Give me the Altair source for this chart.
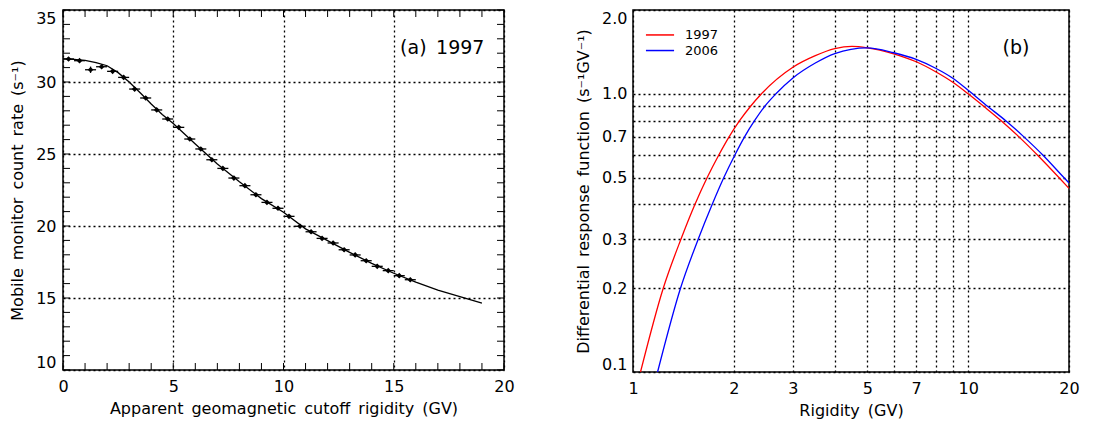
import altair as alt
import pandas as pd

# ---------------- Panel (a) data ----------------
pt_x = [0.25, 0.75, 1.25, 1.75, 2.25, 2.75, 3.25, 3.75, 4.25, 4.75, 5.25, 5.75,
        6.25, 6.75, 7.25, 7.75, 8.25, 8.75, 9.25, 9.75, 10.25, 10.75, 11.25, 11.75,
        12.25, 12.75, 13.25, 13.75, 14.25, 14.75, 15.25, 15.75]
pt_y = [31.6, 31.48, 30.85, 31.06, 30.74, 30.32, 29.51, 28.89, 28.06, 27.43, 26.85, 26.04,
        25.35, 24.6, 24.0, 23.33, 22.8, 22.17, 21.64, 21.23, 20.67, 19.98, 19.6, 19.14,
        18.82, 18.35, 17.99, 17.59, 17.2, 16.9, 16.55, 16.27]
pt_yerr = [0.12, 0.12, 0.22, 0.12, 0.12, 0.12, 0.12, 0.12, 0.12, 0.12, 0.12, 0.12,
           0.12, 0.12, 0.12, 0.12, 0.12, 0.12, 0.12, 0.12, 0.12, 0.12, 0.12, 0.12,
           0.12, 0.12, 0.12, 0.12, 0.12, 0.12, 0.12, 0.12]
bin_half = 0.25

fit_x = [0, 0.5, 1, 1.5, 2, 2.5, 3, 3.5, 4, 4.5, 5, 6, 7, 8, 9, 10, 11, 12, 13, 14,
         15, 16, 17, 18, 19]
fit_y = [31.6, 31.57, 31.5, 31.35, 31.13, 30.65, 30.0, 29.25, 28.47, 27.75, 27.12, 25.7,
         24.3, 23.07, 21.9, 20.95, 19.8, 18.98, 18.17, 17.4, 16.72, 16.1, 15.55, 15.1, 14.65]

a_xticks = list(range(0, 21))
a_yticks = list(range(10, 36))
a_xlabels = [0, 5, 10, 15, 20]
a_ylabels = [10, 15, 20, 25, 30, 35]

# ---------------- Panel (b) data ----------------
r1997 = [1.053, 1.231, 1.39, 1.53, 1.665, 1.80, 1.935, 2.08, 2.24, 2.418, 3.0, 3.5,
         4.0, 4.5, 5.0, 6.0, 7.0, 8.0, 9.0, 10.0, 11.15, 12.55, 14.18, 16.15, 18.66, 20.0]
w1997 = [0.10, 0.20, 0.30, 0.40, 0.50, 0.60, 0.70, 0.80, 0.90, 1.00, 1.245, 1.37,
         1.452, 1.48, 1.463, 1.392, 1.303, 1.20, 1.10, 1.00, 0.90, 0.80, 0.70, 0.60, 0.50, 0.457]
r2006 = [1.184, 1.386, 1.565, 1.7226, 1.867, 2.01, 2.152, 2.305, 2.47, 2.67, 3.0, 3.5,
         4.0, 5.0, 6.0, 7.0, 8.0, 9.0, 10.0, 11.45, 12.95, 14.67, 16.76, 19.3, 20.0]
w2006 = [0.10, 0.20, 0.30, 0.40, 0.50, 0.60, 0.70, 0.80, 0.90, 1.00, 1.14, 1.29,
         1.395, 1.463, 1.404, 1.329, 1.235, 1.137, 1.03, 0.90, 0.80, 0.70, 0.60, 0.50, 0.478]

years = ["1997", "2006"]
year_colors = ["#ff0000", "#0000ff"]
leg_r = [1.093, 1.326]
leg_w = [1.627, 1.43]
leg_text_r = 1.43

b_xvalues = [1, 2, 3, 4, 5, 6, 7, 8, 9, 10, 20]
b_xshown = [1, 2, 3, 5, 7, 10, 20]
b_yvalues = [0.1, 0.2, 0.3, 0.4, 0.5, 0.6, 0.7, 0.8, 0.9, 1.0, 2.0]
b_yshown = [0.1, 0.2, 0.3, 0.5, 0.7, 1.0, 2.0]

FONT = "DejaVu Sans"
SP = "\u2002"
W_A, H_A = 441, 360
W_B, H_B = 436, 362

# ---------------- Panel (a) ----------------
pts = pd.DataFrame({"x": pt_x, "y": pt_y, "e": pt_yerr})
fit = pd.DataFrame({"x": fit_x, "y": fit_y})
xt = pd.DataFrame({"x": a_xticks})
yt = pd.DataFrame({"y": a_yticks})

XT = SP.join(["Apparent", "geomagnetic", "cutoff", "rigidity", "(GV)"])
YT = SP.join(["Mobile", "monitor", "count", "rate", "(s\u207b\u00b9)"])

xs = alt.Scale(domain=[0, 20], nice=False, zero=False)
ys = alt.Scale(domain=[10, 35], nice=False, zero=False)

xax = alt.Axis(values=a_xlabels, title=XT, labelPadding=8, titlePadding=6, format="d",
               labelFlush=False)
yax = alt.Axis(values=a_ylabels, title=YT, labelPadding=7, titlePadding=10,
               labelFlush=True, format="d")

line_a = alt.Chart(fit).mark_line(color="black", strokeWidth=1.3).encode(
    x=alt.X("x:Q", scale=xs, axis=xax),
    y=alt.Y("y:Q", scale=ys, axis=yax),
)
hbar = alt.Chart(pts).transform_calculate(
    lo=f"datum.x - {bin_half}", hi=f"datum.x + {bin_half}"
).mark_rule(color="black", strokeWidth=1.3).encode(
    x=alt.X("lo:Q", scale=xs, title=XT), x2="hi:Q",
    y=alt.Y("y:Q", scale=ys, title=YT),
)
vbar = alt.Chart(pts).transform_calculate(
    lo="datum.y - datum.e", hi="datum.y + datum.e"
).mark_rule(color="black", strokeWidth=1.3).encode(
    x=alt.X("x:Q", scale=xs, title=XT),
    y=alt.Y("lo:Q", scale=ys, title=YT), y2="hi:Q",
)
dots = alt.Chart(pts).mark_point(shape="diamond", filled=True, size=32,
                                 color="black", opacity=1).encode(
    x=alt.X("x:Q", scale=xs, title=XT),
    y=alt.Y("y:Q", scale=ys, title=YT),
)
tick_len = 7
tb = alt.Chart(xt).mark_rule(color="black", strokeWidth=1).encode(
    x=alt.X("x:Q", scale=xs, title=XT), y=alt.value(H_A), y2=alt.value(H_A - tick_len))
tt = alt.Chart(xt).mark_rule(color="black", strokeWidth=1).encode(
    x=alt.X("x:Q", scale=xs, title=XT), y=alt.value(0), y2=alt.value(tick_len))
tl = alt.Chart(yt).mark_rule(color="black", strokeWidth=1).encode(
    y=alt.Y("y:Q", scale=ys, title=YT), x=alt.value(0), x2=alt.value(tick_len))
tr = alt.Chart(yt).mark_rule(color="black", strokeWidth=1).encode(
    y=alt.Y("y:Q", scale=ys, title=YT), x=alt.value(W_A), x2=alt.value(W_A - tick_len))

lab_a = alt.Chart(pd.DataFrame({"x": [17.2], "y": [32.36], "t": ["(a)" + SP + "1997"]})).mark_text(
    font=FONT, fontSize=19, color="black", align="center", baseline="middle"
).encode(x=alt.X("x:Q", scale=xs, title=XT), y=alt.Y("y:Q", scale=ys, title=YT), text="t:N")

panel_a = alt.layer(line_a, hbar, vbar, dots, tb, tt, tl, tr, lab_a).properties(
    width=W_A, height=H_A)

# ---------------- Panel (b) ----------------
rows = []
for r, w in zip(r1997, w1997):
    rows.append({"R": r, "W": w, "year": "1997"})
for r, w in zip(r2006, w2006):
    rows.append({"R": r, "W": w, "year": "2006"})
curves = pd.DataFrame(rows)

leg = pd.DataFrame({"r1": [leg_r[0]] * 2, "r2": [leg_r[1]] * 2, "W": leg_w,
                    "rt": [leg_text_r] * 2, "year": years})

bx = alt.Scale(type="log", domain=[1, 20], nice=False)
by = alt.Scale(type="log", domain=[0.1, 2.0], nice=False)
cs = alt.Scale(domain=years, range=year_colors)

BXT = "Rigidity" + SP + "(GV)"
BYT = SP.join(["Differential", "response", "function", "(s\u207b\u00b9GV\u207b\u00b9)"])

bxax = alt.Axis(values=b_xvalues, title=BXT, labelPadding=8, titlePadding=6, labelFlush=False,
                labelExpr="indexof(" + str(b_xshown) + ", datum.value) >= 0 ? datum.value : ''")
byax = alt.Axis(values=b_yvalues, title=BYT, labelPadding=6, titlePadding=10, labelFlush=True,
                labelExpr="indexof(" + str(b_yshown) + ", datum.value) >= 0 ? format(datum.value, '.1f') : ''")

lines_b = alt.Chart(curves).mark_line(strokeWidth=1.3, interpolate="monotone", clip=True).encode(
    x=alt.X("R:Q", scale=bx, axis=bxax),
    y=alt.Y("W:Q", scale=by, axis=byax),
    color=alt.Color("year:N", scale=cs, legend=None),
)
leg_lines = alt.Chart(leg).mark_rule(strokeWidth=1.5).encode(
    x=alt.X("r1:Q", scale=bx, title=BXT), x2="r2:Q",
    y=alt.Y("W:Q", scale=by, title=BYT),
    color=alt.Color("year:N", scale=cs, legend=None),
)
leg_text = alt.Chart(leg).mark_text(font=FONT, fontSize=13, color="black", align="left",
                                    baseline="middle").encode(
    x=alt.X("rt:Q", scale=bx, title=BXT),
    y=alt.Y("W:Q", scale=by, title=BYT),
    text="year:N",
)
lab_b = alt.Chart(pd.DataFrame({"R": [13.9], "W": [1.46], "t": ["(b)"]})).mark_text(
    font=FONT, fontSize=19, color="black", align="center", baseline="middle"
).encode(x=alt.X("R:Q", scale=bx, title=BXT), y=alt.Y("W:Q", scale=by, title=BYT), text="t:N")

panel_b = alt.layer(lines_b, leg_lines, leg_text, lab_b).properties(width=W_B, height=H_B)

chart = alt.hconcat(panel_a, panel_b, spacing=129, bounds="flush").properties(
    padding={"left": 0, "top": 0, "right": 0, "bottom": 0}
).configure_view(
    stroke="black", strokeWidth=1.5
).configure_axis(
    domain=False, ticks=False, grid=True, gridColor="black", gridDash=[2, 3],
    gridWidth=1.3, gridOpacity=1, labelFont=FONT, titleFont=FONT, labelFontSize=16,
    titleFontSize=16, labelColor="black", titleColor="black", titleFontWeight="normal"
)

chart.save("out.html", embed_options={"renderer": "svg", "actions": False})
